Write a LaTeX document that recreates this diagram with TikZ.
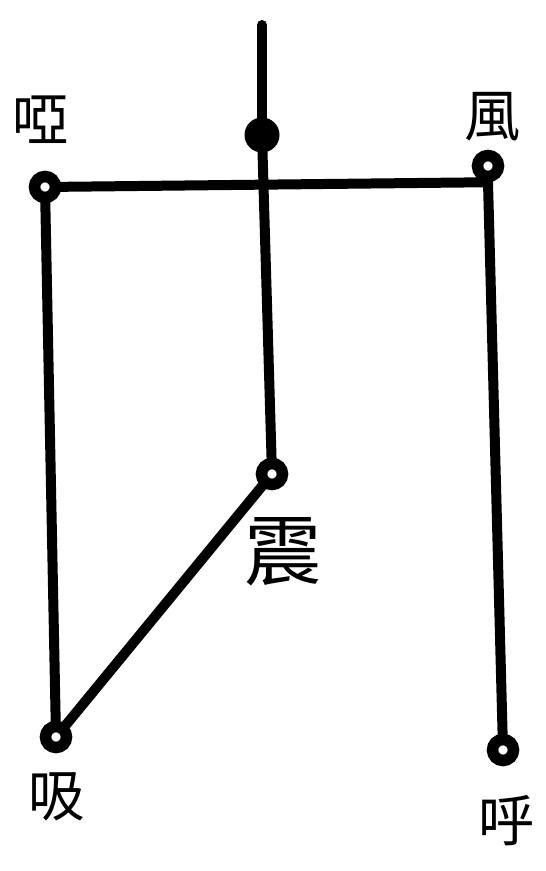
\documentclass[tikz,border=0pt]{standalone}
\usepackage{fontspec}
\newfontfamily\cjk{Noto Sans CJK TC}
\usetikzlibrary{backgrounds}

\begin{document}
\begin{tikzpicture}[x=0.02cm,y=-0.02cm,
    wire/.style={line width=0.2cm},
    ring/.style={circle,draw,fill=white,line width=0.23cm,inner sep=0pt,minimum size=0.42cm},
    blob/.style={circle,fill,inner sep=0pt,minimum size=0.7cm},
    lbl/.style={font=\cjk\fontsize{32}{32}\selectfont,inner sep=0pt}]
                \useasboundingbox (0,0) rectangle (545,871);
                \coordinate (top) at (262,25);
                \node[blob] (dot) at (262,135) {};
                \node[ring] (ya) at (45,187) {};
                \node[ring] (feng) at (488,166) {};
                \node[ring] (zhen) at (272,474) {};
                \node[ring] (xi) at (56,737) {};
                \node[ring] (hu) at (503,750) {};
                \begin{scope}[on background layer]
                    \draw[wire,line cap=round] (top) -- (dot.center);
                    \draw[wire] (dot.center) -- (zhen.center);
                    \draw[wire] (ya.center) -- (feng.south) -- (hu.center);
                    \draw[wire] (ya.center) -- (xi.center);
                    \draw[wire] (xi.center) -- (zhen.center);
                \end{scope}
                \node[lbl] (yaL) at (41,120) {啞};
                \node[lbl] (fengL) at (493,117) {風};
                \node[lbl,font=\cjk\fontsize{44}{44}\selectfont] (zhenL) at (283,552) {震};
                \node[lbl] (xiL) at (57,797) {吸};
                \node[lbl] (huL) at (507,821) {呼};
\end{tikzpicture}
\end{document}
